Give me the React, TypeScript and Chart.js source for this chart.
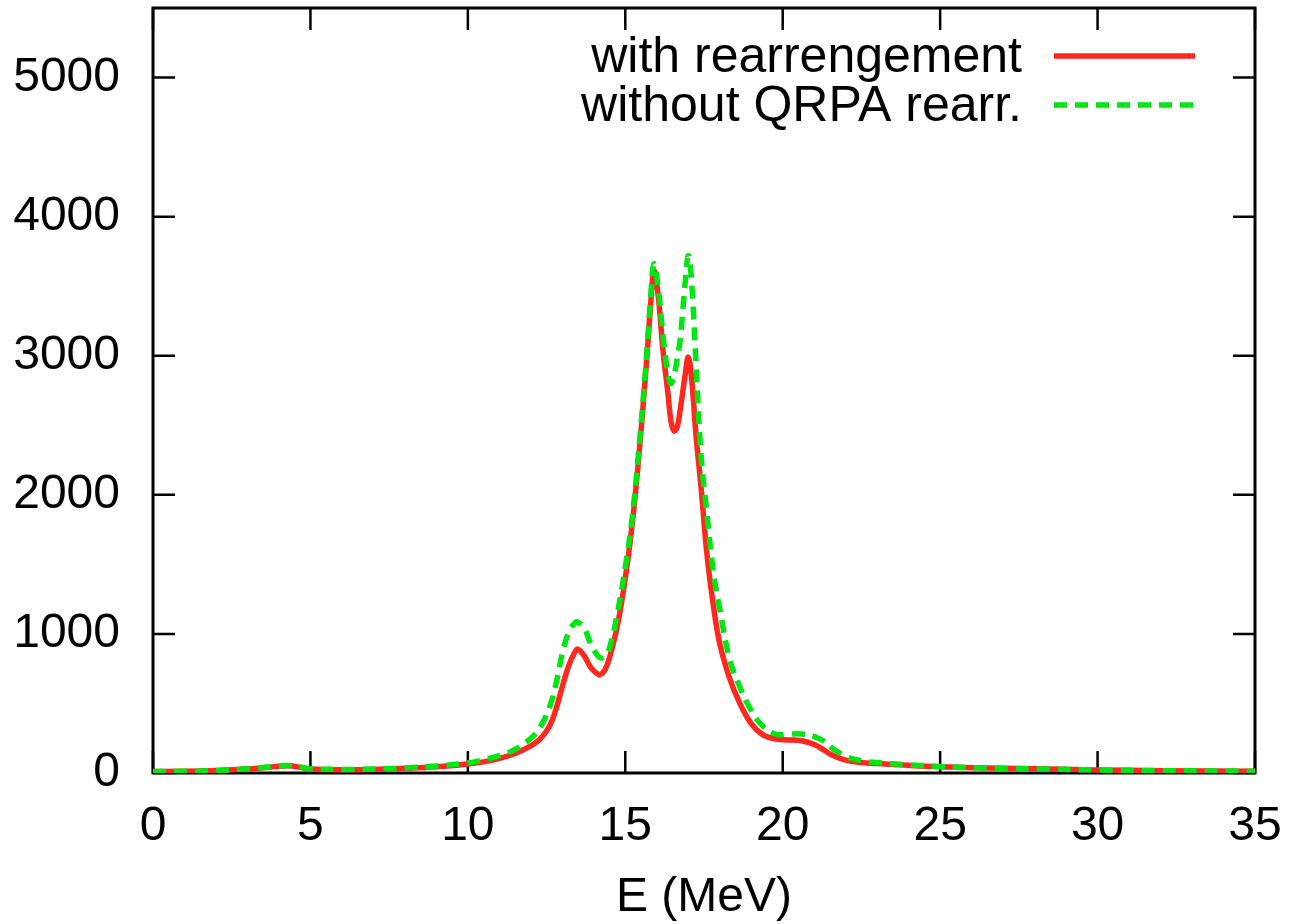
import React, { useEffect, useRef } from 'react';
import { Chart, registerables } from 'chart.js';

Chart.register(...registerables);

// Energy grid (MeV)
const energies = [
  0, 1, 2, 3, 3.5, 4, 4.3, 4.7, 5, 6, 7, 8, 9, 10, 10.5, 11, 11.5, 12, 12.3, 12.6,
  12.8, 13.0, 13.2, 13.4, 13.5, 13.7, 13.9, 14.1, 14.2, 14.35, 14.5, 14.75, 15.0, 15.2, 15.4, 15.65,
  15.8, 15.91, 16.05, 16.2, 16.35, 16.45, 16.55, 16.65, 16.75, 16.9, 17.0, 17.1, 17.25, 17.4, 17.6, 17.8,
  18.0, 18.3, 18.6, 19.0, 19.4, 19.8, 20.2, 20.6, 21.0, 21.3, 21.6, 22.0, 22.5, 23.0, 24.0, 25.0,
  26.5, 28.5, 30, 32, 35,
];

// "with rearrengement" (red, solid)
const withRearrangement = [
  10, 12, 18, 28, 38, 48, 52, 40, 28, 24, 26, 34, 45, 65, 80, 105, 140, 195, 245, 340,
  460, 620, 770, 870, 890, 840, 760, 715, 706, 740, 830, 1060, 1400, 1750, 2200, 2880,
  3350, 3610, 3420, 3030, 2740, 2530, 2460, 2490, 2620, 2860, 2990, 2850, 2420, 2070, 1560, 1200,
  930, 690, 520, 355, 270, 245, 238, 232, 205, 166, 125, 92, 75, 68, 55, 45,
  36, 28, 22, 17, 12,
];

// "without QRPA rearr." (green, dashed)
const withoutQrpaRearr = [
  10, 12, 18, 30, 40, 50, 54, 42, 30, 26, 28, 36, 50, 72, 95, 125, 170, 250, 330, 480,
  640, 860, 1010, 1080, 1083, 1040, 930, 850, 828, 840, 900, 1150, 1480, 1800, 2250, 2920,
  3400, 3660, 3480, 3140, 2880, 2800, 2860, 2980, 3130, 3520, 3720, 3550, 2930, 2300, 1850, 1440,
  1180, 830, 640, 450, 330, 278, 280, 280, 262, 230, 175, 120, 88, 75, 58, 46,
  36, 28, 22, 17, 12,
];

const xTickValues = [0, 5, 10, 15, 20, 25, 30, 35];
const yTickValues = [0, 1000, 2000, 3000, 4000, 5000];
const seriesLabels = ['with rearrengement', 'without QRPA rearr.'];
const xTitle = 'E (MeV)';

const FONT = '"Liberation Sans", Arial, Helvetica, sans-serif';
const RED = 'rgb(255,40,30)';
const GREEN = 'rgb(0,230,20)';

const frameAndTicks = {
  id: 'frameAndTicks',
  beforeDatasetsDraw(chart: any) {
    const { ctx, chartArea: a, scales } = chart;
    ctx.save();
    ctx.strokeStyle = '#000';
    ctx.lineWidth = 2.5;
    const tl = 22;
    ctx.beginPath();
    for (const t of scales.x.ticks) {
      const px = scales.x.getPixelForValue(t.value);
      ctx.moveTo(px, a.bottom);
      ctx.lineTo(px, a.bottom - tl);
      ctx.moveTo(px, a.top);
      ctx.lineTo(px, a.top + tl);
    }
    for (const t of scales.y.ticks) {
      const py = scales.y.getPixelForValue(t.value);
      ctx.moveTo(a.left, py);
      ctx.lineTo(a.left + tl, py);
      ctx.moveTo(a.right, py);
      ctx.lineTo(a.right - tl, py);
    }
    ctx.stroke();
    ctx.lineWidth = 3;
    ctx.strokeRect(a.left, a.top, a.right - a.left, a.bottom - a.top);
    ctx.restore();
  },
};

const gnuplotLegend = {
  id: 'gnuplotLegend',
  afterDraw(chart: any) {
    const { ctx, chartArea: a } = chart;
    ctx.save();
    ctx.font = `50px ${FONT}`;
    ctx.fillStyle = '#000';
    ctx.textAlign = 'right';
    ctx.textBaseline = 'middle';
    const textRight = a.right - 233;
    const x1 = a.right - 201;
    const x2 = a.right - 60;
    chart.data.datasets.forEach((ds: any, i: number) => {
      const y = a.top + 48 + i * 49;
      ctx.fillText(ds.label, textRight, y + 2);
      ctx.beginPath();
      ctx.strokeStyle = ds.borderColor;
      ctx.lineWidth = ds.borderWidth;
      ctx.setLineDash(ds.borderDash || []);
      ctx.moveTo(x1, y);
      ctx.lineTo(x2, y);
      ctx.stroke();
    });
    ctx.restore();
  },
};

export default function App() {
  const canvasRef = useRef<HTMLCanvasElement | null>(null);

  useEffect(() => {
    const canvas = canvasRef.current;
    if (!canvas) return;
    const toPoints = (vals: number[]) => energies.map((e, i) => ({ x: e, y: vals[i] }));
    const chart = new Chart(canvas, {
      type: 'line',
      data: {
        datasets: [
          {
            label: seriesLabels[0],
            data: toPoints(withRearrangement),
            borderColor: RED,
            borderWidth: 5.5,
            pointRadius: 0,
            tension: 0.4,
            fill: false,
            order: 2,
          },
          {
            label: seriesLabels[1],
            data: toPoints(withoutQrpaRearr),
            borderColor: GREEN,
            borderWidth: 5.5,
            borderDash: [13, 8],
            pointRadius: 0,
            tension: 0.4,
            fill: false,
            order: 1,
          },
        ],
      },
      options: {
        responsive: false,
        animation: false,
        events: [],
        layout: { padding: { top: 8, right: 36, left: 0, bottom: 0 } },
        plugins: { legend: { display: false }, tooltip: { enabled: false } },
        scales: {
          x: {
            type: 'linear',
            min: 0,
            max: 35,
            grid: { display: false, drawTicks: false },
            border: { display: false },
            afterBuildTicks: (s: any) => {
              s.ticks = xTickValues.map((v) => ({ value: v }));
            },
            afterFit: (s: any) => {
              s.height = 151;
              s.paddingLeft = 0;
              s.paddingRight = 0;
            },
            ticks: {
              color: '#000',
              font: { family: FONT, size: 48 },
              padding: 25,
              maxRotation: 0,
              autoSkip: false,
              callback: (v: any) => String(v),
            },
            title: {
              display: true,
              text: xTitle,
              color: '#000',
              font: { family: FONT, size: 48, lineHeight: 1 },
              padding: { top: 0, bottom: 2 },
            },
          },
          y: {
            type: 'linear',
            min: 0,
            max: 5500,
            grid: { display: false, drawTicks: false },
            border: { display: false },
            afterBuildTicks: (s: any) => {
              s.ticks = yTickValues.map((v) => ({ value: v }));
            },
            afterFit: (s: any) => {
              s.width = 153;
              s.paddingTop = 0;
              s.paddingBottom = 0;
            },
            ticks: {
              color: '#000',
              font: { family: FONT, size: 48 },
              padding: 33,
              autoSkip: false,
              callback: (v: any) => String(v),
            },
          },
        },
      },
      plugins: [frameAndTicks, gnuplotLegend],
    } as any);
    return () => chart.destroy();
  }, []);

  return (
    <div style={{ position: 'fixed', left: 0, top: 0, width: 1291, height: 924, background: '#fff' }}>
      <canvas ref={canvasRef} width={1291} height={924} />
    </div>
  );
}
